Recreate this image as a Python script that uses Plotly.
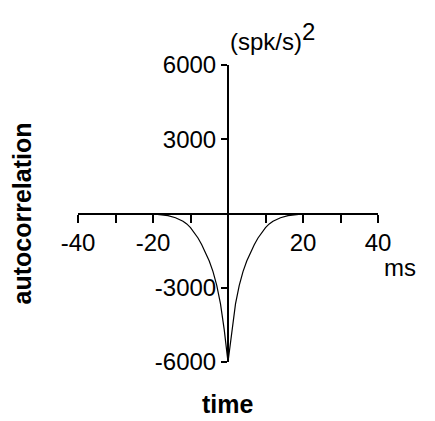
import plotly.graph_objects as go

t_pos = [0, 1, 2, 3, 4, 5, 6, 7, 8, 9, 10, 11, 12, 14, 16, 20, 25, 40]
r_pos = [-6000, -4700, -3650, -2900, -2350, -1920, -1560, -1260, -990, -760, -570, -420, -310, -170, -85, -20, 0, 0]
t = [-v for v in t_pos[::-1]] + t_pos[1:]
r = r_pos[::-1] + r_pos[1:]

x_ticks = [-40, -30, -20, -10, 0, 10, 20, 30, 40]
x_labels = ["-40", "", "-20", "", "", "", "20", "", "40"]
y_ticks = [-6000, -3000, 0, 3000, 6000]
y_labels = ["-6000", "-3000", "", "3000", "6000"]

font = dict(family="Liberation Sans, Arial", size=24, color="black")
bold = dict(family="Liberation Sans, Arial", size=25, color="black")
fig = go.Figure(go.Scatter(x=t, y=r, mode="lines", line=dict(color="black", width=1.2),
                           hoverinfo="skip"))
fig.update_layout(
    width=435, height=421, margin=dict(l=70, r=65, t=57, b=67, autoexpand=False),
    paper_bgcolor="white", plot_bgcolor="white", showlegend=False, font=font,
    xaxis=dict(range=[-40, 40], anchor="free", position=0.5, showgrid=False, zeroline=False,
               automargin=False,
               showline=True, linecolor="black", linewidth=2, ticks="outside", ticklen=8,
               tickwidth=2, tickcolor="black", tickvals=x_ticks, ticktext=x_labels, tickfont=font),
    yaxis=dict(range=[-6000, 6000], anchor="free", position=0.5, showgrid=False, zeroline=False,
               automargin=False,
               showline=True, linecolor="black", linewidth=2, ticks="outside", ticklen=6,
               tickwidth=2, tickcolor="black", tickvals=y_ticks, ticktext=y_labels, tickfont=font),
    annotations=[
        dict(text="<span style='font-size:24px'>(spk/s)</span><sup><span style='font-size:24px'>2</span></sup>",
             xref="paper", yref="paper", x=0.5, y=1.0, xanchor="left",
             yanchor="bottom", showarrow=False, font=font, xshift=0, yshift=8),
        dict(text="ms", xref="paper", yref="paper", x=1.0, y=0.5, xanchor="left", yanchor="top",
             showarrow=False, font=font, xshift=4, yshift=-38),
        dict(text="<b>autocorrelation</b>", xref="paper", yref="paper", x=-0.19, y=0.5,
             textangle=-90, showarrow=False, font=bold, xanchor="center", yanchor="middle"),
        dict(text="<b>time</b>", xref="paper", yref="paper", x=0.5, y=0, yanchor="top",
             showarrow=False, font=bold, yshift=-26),
    ],
)
fig.write_html("out.html")
